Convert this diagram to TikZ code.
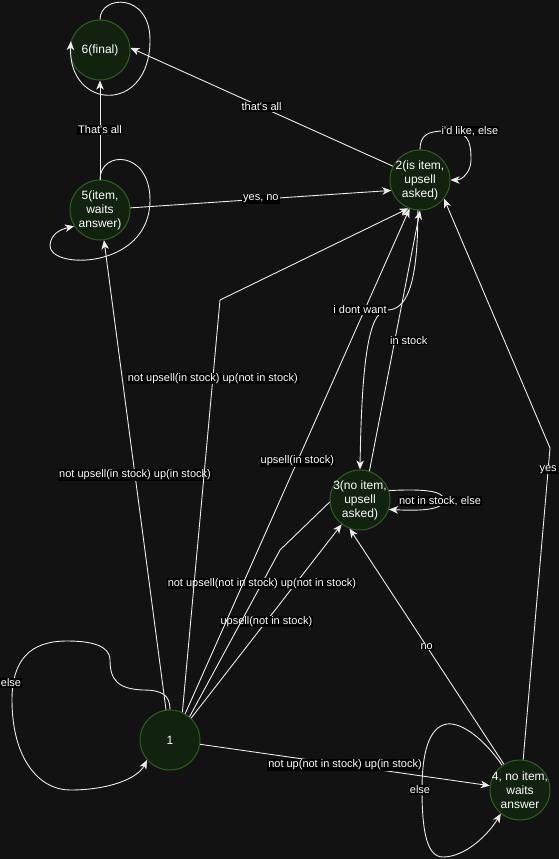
\documentclass[tikz,border=0pt]{standalone}
\usepackage{fontspec}
\setmainfont{Liberation Sans}
\usetikzlibrary{arrows.meta}
\definecolor{bgcol}{RGB}{18,18,18}
\definecolor{statefill}{RGB}{17,34,15}
\definecolor{stateline}{RGB}{46,98,28}
\definecolor{edgecol}{RGB}{236,236,236}
\begin{document}
\begin{tikzpicture}[x=1pt, y=-1pt,
    state/.style={circle, draw=stateline, fill=statefill, line width=1pt, minimum size=60pt, inner sep=-10pt, align=center, text=white, font=\fontsize{12}{14}\selectfont},
    lbl/.style={fill=black, text=white, inner xsep=1pt, inner ysep=0.5pt, font=\fontsize{11}{13}\selectfont},
    trans/.style={draw=edgecol, line width=0.9pt},
    >={Stealth[length=9pt, width=7.5pt, inset=2.5pt]}]
            \fill[bgcol] (0,0) rectangle (559,859);
            \useasboundingbox (0,0) rectangle (559,859);
            \node[state] (s6) at (100,50) {6(final)};
            \node[state] (s5) at (100,210) {5(item,\\waits\\answer)};
            \node[state] (s2) at (420,180) {2(is item,\\upsell\\asked)};
            \node[state] (s3) at (360,500) {3(no item,\\upsell\\asked)};
            \node[state] (s1) at (170,740) {1};
            \node[state] (s4) at (520,790) {4, no item,\\waits\\answer};
            \coordinate (b12) at (220,300);
            \coordinate (b13) at (280,550);
            \coordinate (b42) at (550,448);
            \draw [trans, ->] (s5) -- (s6) node[lbl, pos=0.5] {That\textquotesingle{}s all};
            \draw [trans, ->] (s6.90) .. controls (100,-5) and (150,-8) .. (150,40) .. controls (150,115) and (68,110) .. (s6.163);
            \draw [trans, ->] (s2.153) -- (s6.4) node[lbl, pos=0.5] {that\textquotesingle{}s all};
            \draw [trans, ->] (s5.4) -- (s2.200) node[lbl, pos=0.5] {yes, no};
            \draw [trans, ->] (s5.90) .. controls (100,150) and (150,150) .. (150,200) .. controls (150,270) and (48,270) .. (50,245) .. controls (51,233) and (62,229) .. (s5.-148);
            \draw [trans, ->] (s2.90) .. controls (420,135) and (428,131) .. (445,131) .. controls (468,131) and (471,140) .. (471,160) .. controls (471,172) and (462,180) .. (s2.0) node[lbl] at (470,131) {i\textquotesingle{}d like, else};
            \draw [trans, ->] (s1) -- (s5) node[lbl, pos=0.5] {not upsell(in stock) up(in stock)};
            \draw [trans, ->] (s1.46) -- (s3.-127) node[lbl, pos=0.5] {upsell(not in stock)};
            \draw [trans] (s1.50) -- (b13) node[lbl, pos=0.8] {not upsell(not in stock) up(not in stock)} -- (s3.184);
            \draw [trans, ->] (s1.60) -- (s2.-110) node[lbl, pos=0.5] {upsell(in stock)};
            \draw [trans, ->] (s1.66) -- (b12) node[lbl, pos=0.81] {not upsell(in stock) up(not in stock)} -- (s2.-112);
            \draw [trans, ->] (s2.-94) .. controls (418,290) and (405,310) .. (387,310) .. controls (372,312) and (362,340) .. (s3.90) node[lbl] at (360,310) {i dont want};
            \draw [trans, ->] (s3.72) -- (s2.-90) node[lbl, pos=0.5, xshift=14pt] {in stock};
            \draw [trans, ->] (s3.18) .. controls (420,489) and (444,490) .. (444,500) .. controls (444,510) and (420,511) .. (s3.-18) node[lbl] at (440,501) {not in stock, else};
            \draw [trans, ->] (s1.90) .. controls (170,695) and (162,690) .. (143,690) .. controls (118,689) and (110,680) .. (110,660) .. controls (110,645) and (90,641) .. (67,641) .. controls (30,641) and (12,660) .. (12,700) .. controls (12,760) and (40,790) .. (70,790) .. controls (110,790) and (138,778) .. (s1.-139) node[lbl] at (11,683) {else};
            \draw [trans, ->] (s1) -- (s4) node[lbl, pos=0.5] {not up(not in stock) up(in stock)};
            \draw [trans, ->] (s4.122) -- (s3.-110) node[lbl, pos=0.5] {no};
            \draw [trans, ->] (s4.84) -- (b42) node[lbl, pos=0.93] {yes} -- (s2.-38);
            \draw [trans, ->] (s4.126) .. controls (485,740) and (462,722) .. (447,724) .. controls (428,727) and (422,755) .. (422,790) .. controls (422,835) and (428,857) .. (443,857) .. controls (465,857) and (488,835) .. (s4.-129) node[lbl] at (420,790) {else};
\end{tikzpicture}
\end{document}
